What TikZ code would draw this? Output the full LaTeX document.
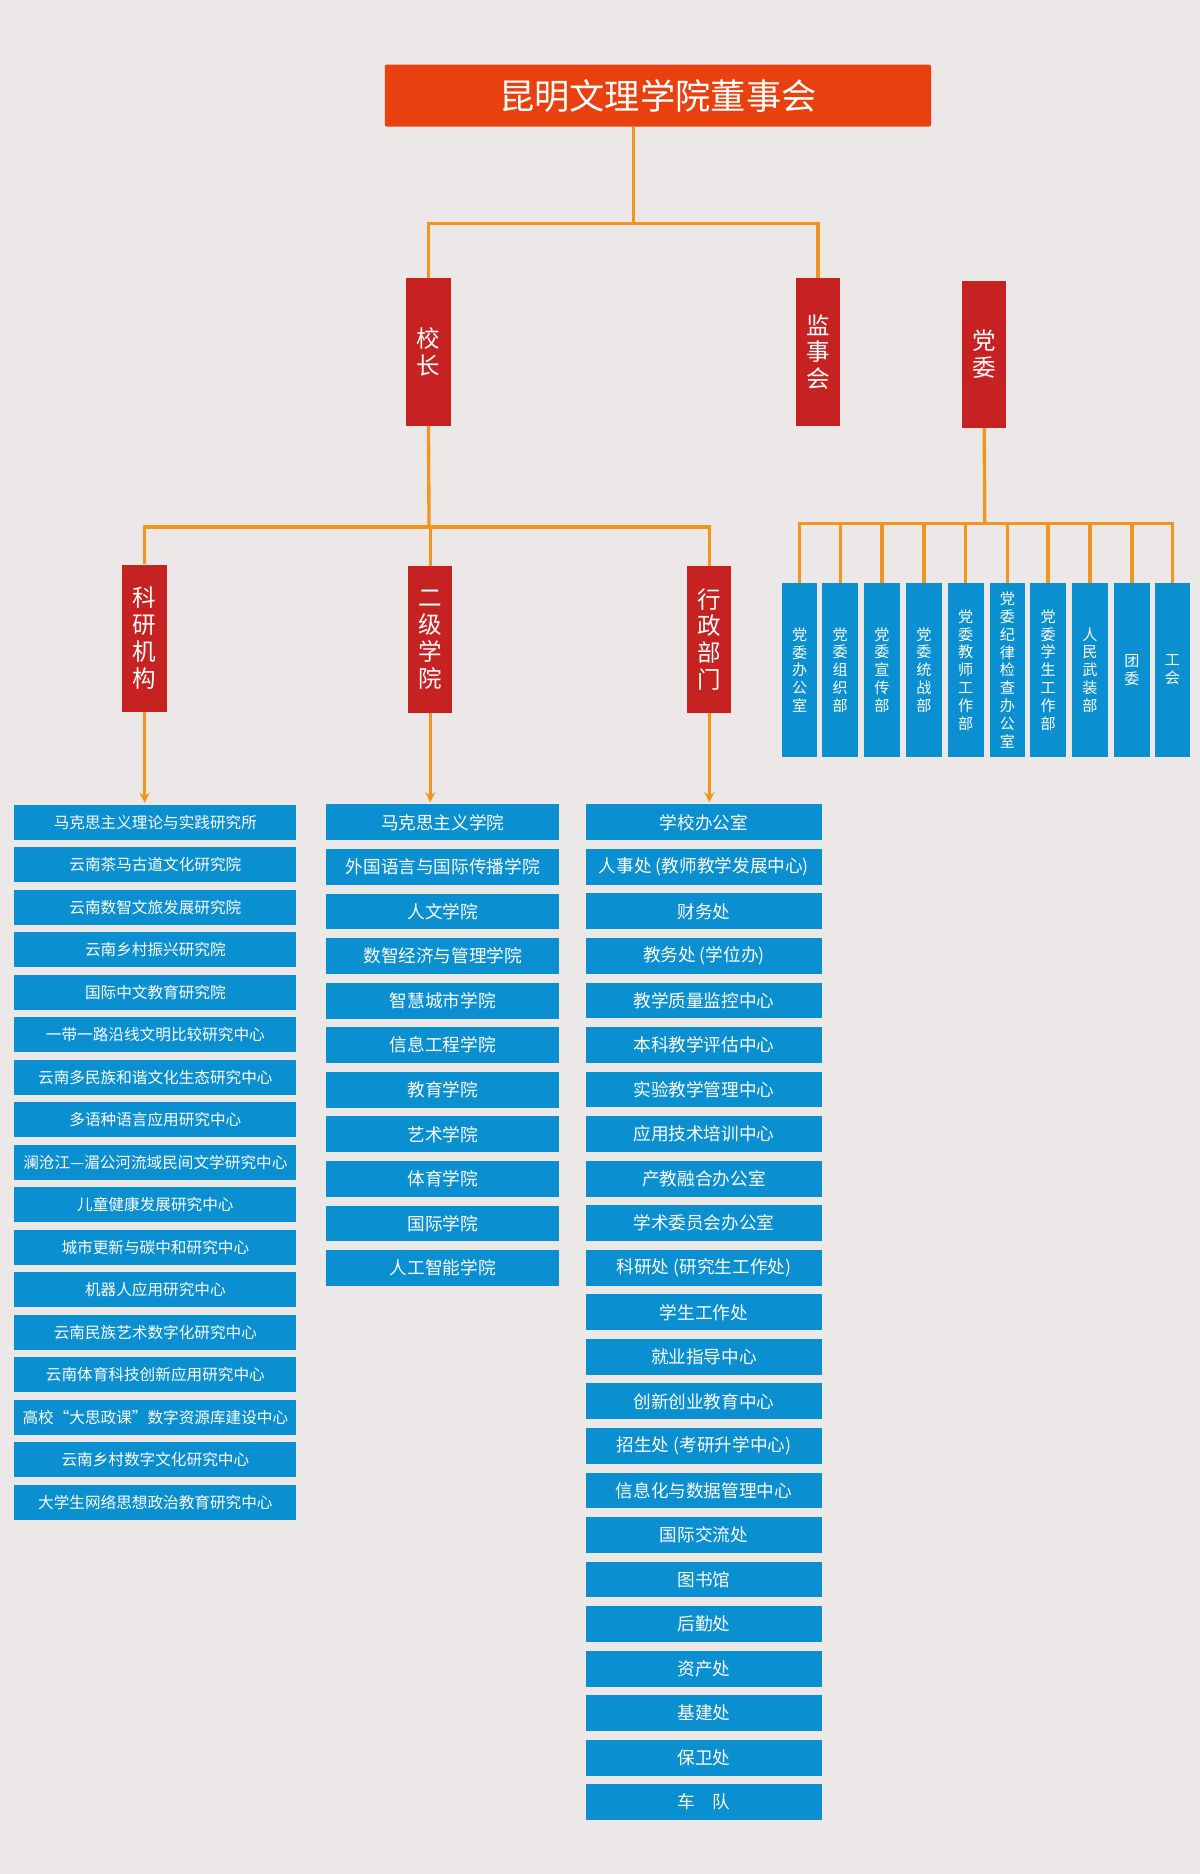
\documentclass[tikz,border=0pt]{standalone}
\usepackage{fontspec}
\setmainfont{Noto Sans CJK SC}
\usepackage{xcolor}
\usetikzlibrary{arrows.meta}
\definecolor{bgGray}{RGB}{236,232,232}
\definecolor{titleRed}{RGB}{232,64,14}
\definecolor{boxRed}{RGB}{198,34,34}
\definecolor{boxBlue}{RGB}{10,143,208}
\definecolor{lineOrange}{RGB}{240,150,30}

\begin{document}
\begin{tikzpicture}[
    x=0.025cm, y=-0.025cm,
    title/.style={rectangle, fill=titleRed, text=white, minimum width=11.425cm, minimum height=1.3cm, font=\fontsize{21}{24}\selectfont, rounded corners=1pt},
    redbox/.style={rectangle, fill=boxRed, text=white, minimum width=0.925cm, minimum height=3.075cm, align=center, font=\fontsize{14}{16}\selectfont, inner sep=1pt},
    partybox/.style={rectangle, fill=boxBlue, text=white, minimum width=0.75cm, minimum height=3.625cm, align=center, font=\fontsize{9}{10.6}\selectfont, inner sep=1pt},
    leftitem/.style={rectangle, fill=boxBlue, text=white, minimum width=5.9cm, minimum height=0.725cm, font=\fontsize{9.3}{11}\selectfont, inner sep=1pt},
    miditem/.style={rectangle, fill=boxBlue, text=white, minimum width=4.875cm, minimum height=0.75cm, font=\fontsize{10.5}{12}\selectfont, inner sep=1pt},
    rightitem/.style={rectangle, fill=boxBlue, text=white, minimum width=4.95cm, minimum height=0.75cm, font=\fontsize{10.5}{12}\selectfont, inner sep=1pt},
    link/.style={draw=lineOrange, line width=2pt},
    arrowlink/.style={link, -{Stealth[length=6pt,width=6pt]}, shorten >=1pt}
]
\fill[bgGray] (0,0) rectangle (1004,1568);
\useasboundingbox (0,0) rectangle (1004,1568);

% Board
\node[title] (board) at (550.5,80) {昆明文理学院董事会};

% Second level
\node[redbox] (xz)  at (358.5,294.5) {校\\长};
\node[redbox] (jsh) at (684.5,294.5) {监\\事\\会};
\node[redbox] (dw)  at (823.5,296.5) {党\\委};

% Third level
\node[redbox] (kyjg) at (121,534)   {科\\研\\机\\构};
\node[redbox] (ejxy) at (360,535)   {二\\级\\学\\院};
\node[redbox] (xzbm) at (593.5,535) {行\\政\\部\\门};

% Party departments
\foreach \n/\x/\t in {1/669/党\\委\\办\\公\\室, 2/703/党\\委\\组\\织\\部, 3/738/党\\委\\宣\\传\\部,
    4/773/党\\委\\统\\战\\部, 5/808/党\\委\\教\\师\\工\\作\\部, 6/843/党\\委\\纪\\律\\检\\查\\办\\公\\室,
    7/877/党\\委\\学\\生\\工\\作\\部, 8/912/人\\民\\武\\装\\部, 9/947/团\\委, 10/981/工\\会}
    \node[partybox] (p\n) at (\x,560.5) {\t};

% Research institutes
\foreach \t [count=\i] in {马克思主义理论与实践研究所, 云南茶马古道文化研究院, 云南数智文旅发展研究院,
    云南乡村振兴研究院, 国际中文教育研究院, 一带一路沿线文明比较研究中心, 云南多民族和谐文化生态研究中心,
    多语种语言应用研究中心, 澜沧江—湄公河流域民间文学研究中心, 儿童健康发展研究中心, 城市更新与碳中和研究中心,
    机器人应用研究中心, 云南民族艺术数字化研究中心, 云南体育科技创新应用研究中心,
    {高校“大思政课”数字资源库建设中心}, 云南乡村数字文化研究中心, 大学生网络思想政治教育研究中心}
    \node[leftitem] (k\i) at (130,{688+35.56*(\i-1)}) {\t};

% Colleges
\foreach \t [count=\i] in {马克思主义学院, 外国语言与国际传播学院, 人文学院, 数智经济与管理学院, 智慧城市学院,
    信息工程学院, 教育学院, 艺术学院, 体育学院, 国际学院, 人工智能学院}
    \node[miditem] (c\i) at (370.5,{688+37.3*(\i-1)}) {\t};

% Administrative departments
\foreach \t [count=\i] in {学校办公室, 人事处 (教师教学发展中心), 财务处, 教务处 (学位办), 教学质量监控中心,
    本科教学评估中心, 实验教学管理中心, 应用技术培训中心, 产教融合办公室, 学术委员会办公室,
    科研处 (研究生工作处), 学生工作处, 就业指导中心, 创新创业教育中心, 招生处 (考研升学中心),
    信息化与数据管理中心, 国际交流处, 图书馆, 后勤处, 资产处, 基建处, 保卫处, 车\quad 队}
    \node[rightitem] (a\i) at (589,{688+37.27*(\i-1)}) {\t};

% Connections
\coordinate (topbar) at (530,187);
\coordinate (xzbar)  at (359,441);
\coordinate (dwbar)  at (824,438);
\draw[link] (board.south -| topbar) -- (topbar);
\draw[link] (xz.north) |- (topbar);
\draw[link] (jsh.north) |- (topbar);
\draw[link] (xz.south) -- (xzbar);
\draw[link] (kyjg.north) |- (xzbar);
\draw[link] (ejxy.north) |- (xzbar);
\draw[link] (xzbm.north) |- (xzbar);
\draw[link] (dw.south) -- (dwbar);
\foreach \n in {1,...,10}
    \draw[link] (p\n.north) |- (dwbar);

\draw[arrowlink] (kyjg.south) -- (kyjg.south |- k1.north);
\draw[arrowlink] (ejxy.south) -- (ejxy.south |- c1.north);
\draw[arrowlink] (xzbm.south) -- (xzbm.south |- a1.north);

\end{tikzpicture}
\end{document}
